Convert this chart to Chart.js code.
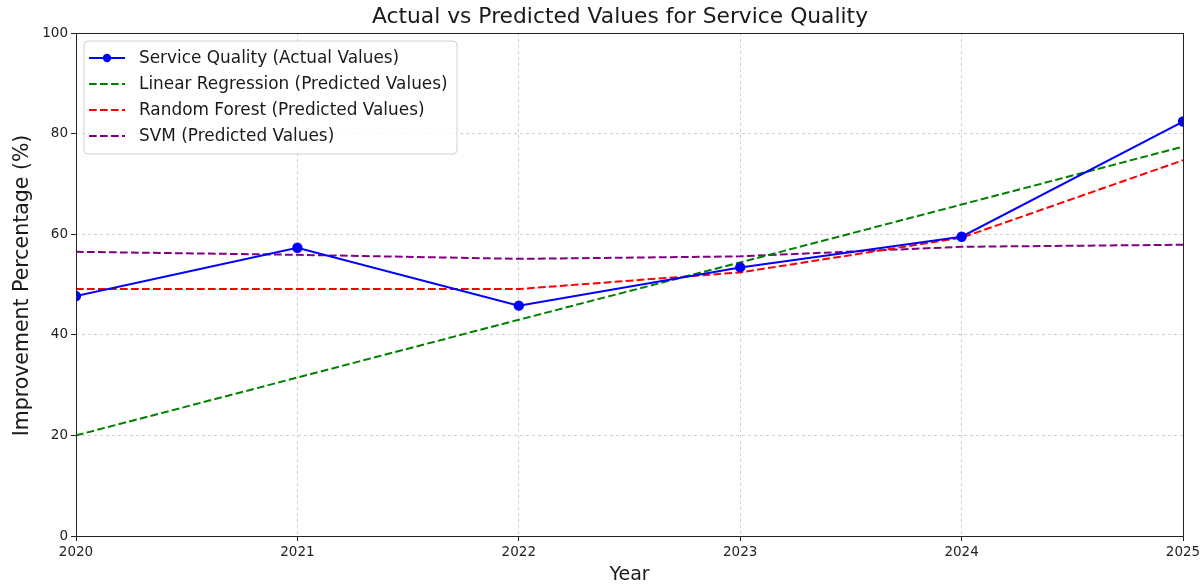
<!DOCTYPE html>
<html>
<head>
<meta charset="utf-8">
<title>Actual vs Predicted Values for Service Quality</title>
<script src="https://cdn.jsdelivr.net/npm/chart.js@4/dist/chart.umd.min.js"></script>
<style>
  html, body { margin: 0; padding: 0; background: #ffffff; }
  #wrap { width: 1204px; height: 588px; position: relative; }
</style>
</head>
<body>
<div id="wrap"><canvas id="chart" width="1204" height="588"></canvas></div>
<script>
// Years on the horizontal axis
const years = [2020, 2021, 2022, 2023, 2024, 2025];

// Observed service-quality improvement (%)
const actualValues = [47.7, 57.3, 45.8, 53.4, 59.5, 82.4];

// Model predictions (%)
const linearRegressionValues = [20.0, 31.5, 43.0, 54.4, 65.9, 77.4];
const randomForestValues = [49.1, 49.1, 49.1, 52.4, 59.3, 74.7];
const svmValues = [56.5, 55.9, 55.1, 55.6, 57.5, 57.9];

// Y-axis ticks
const yTicks = [0, 20, 40, 60, 80, 100];

const FONT = "'DejaVu Sans', 'Liberation Sans', sans-serif";

function toPoints(values) {
  return years.map((yr, i) => ({ x: yr, y: values[i] }));
}

// Box frame around the plot area, drawn above the lines
const framePlugin = {
  id: 'frame',
  afterDatasetsDraw(chart) {
    const { ctx, chartArea: a } = chart;
    ctx.save();
    ctx.strokeStyle = '#222';
    ctx.lineWidth = 1;
    ctx.strokeRect(Math.round(a.left) + 0.5, Math.round(a.top) + 0.5,
                   Math.round(a.right - a.left), Math.round(a.bottom - a.top));
    ctx.restore();
  }
};

// Titles and the boxed legend in the upper-left corner
const textPlugin = {
  id: 'texts',
  afterDraw(chart) {
    const { ctx, chartArea: a } = chart;
    ctx.save();
    ctx.fillStyle = '#1a1a1a';
    ctx.textBaseline = 'middle';
    ctx.textAlign = 'center';

    ctx.font = `21.8px ${FONT}`;
    ctx.fillText('Actual vs Predicted Values for Service Quality', 620, 17);

    ctx.font = `19px ${FONT}`;
    ctx.fillText('Year', (a.left + a.right) / 2, 575);

    ctx.save();
    ctx.font = `20.5px ${FONT}`;
    ctx.translate(23, 285.5);
    ctx.rotate(-Math.PI / 2);
    ctx.fillText('Improvement Percentage (%)', 0, 0);
    ctx.restore();

    // legend
    const lx = 84, ly = 41, lw = 373, lh = 113, r = 4;
    ctx.beginPath();
    ctx.moveTo(lx + r, ly);
    ctx.arcTo(lx + lw, ly, lx + lw, ly + lh, r);
    ctx.arcTo(lx + lw, ly + lh, lx, ly + lh, r);
    ctx.arcTo(lx, ly + lh, lx, ly, r);
    ctx.arcTo(lx, ly, lx + lw, ly, r);
    ctx.closePath();
    ctx.fillStyle = 'rgba(255,255,255,0.8)';
    ctx.fill();
    ctx.strokeStyle = '#d0d0d0';
    ctx.lineWidth = 1;
    ctx.stroke();

    ctx.font = `16.9px ${FONT}`;
    ctx.textAlign = 'left';
    const rows = [58, 84, 110, 136];
    chart.data.datasets.forEach((ds, i) => {
      const y = rows[i];
      ctx.save();
      ctx.strokeStyle = ds.borderColor;
      ctx.lineWidth = ds.borderWidth;
      ctx.setLineDash(ds.borderDash || []);
      ctx.beginPath();
      ctx.moveTo(89, y);
      ctx.lineTo(125, y);
      ctx.stroke();
      ctx.setLineDash([]);
      if (ds.pointRadius > 0) {
        ctx.fillStyle = ds.pointBackgroundColor;
        ctx.beginPath();
        ctx.arc(107, y, ds.pointRadius, 0, Math.PI * 2);
        ctx.fill();
      }
      ctx.restore();
      ctx.fillStyle = '#1a1a1a';
      ctx.fillText(ds.label, 139, y + 1);
    });
    ctx.restore();
  }
};

const dashed = [7.7, 3.3];

new Chart(document.getElementById('chart'), {
  type: 'line',
  data: {
    datasets: [
      {
        label: 'Service Quality (Actual Values)',
        data: toPoints(actualValues),
        borderColor: '#0000ff',
        backgroundColor: '#0000ff',
        pointBackgroundColor: '#0000ff',
        pointBorderColor: '#0000ff',
        borderWidth: 2,
        pointRadius: 4.2,
        pointHoverRadius: 4.2,
        borderDash: [],
        tension: 0,
        clip: 0,
        order: 1
      },
      {
        label: 'Linear Regression (Predicted Values)',
        data: toPoints(linearRegressionValues),
        borderColor: '#008000',
        backgroundColor: '#008000',
        borderWidth: 2,
        borderDash: dashed,
        pointRadius: 0,
        tension: 0,
        clip: 0,
        order: 2
      },
      {
        label: 'Random Forest (Predicted Values)',
        data: toPoints(randomForestValues),
        borderColor: '#ff0000',
        backgroundColor: '#ff0000',
        borderWidth: 2,
        borderDash: dashed,
        pointRadius: 0,
        tension: 0,
        clip: 0,
        order: 3
      },
      {
        label: 'SVM (Predicted Values)',
        data: toPoints(svmValues),
        borderColor: '#800080',
        backgroundColor: '#800080',
        borderWidth: 2,
        borderDash: dashed,
        pointRadius: 0,
        tension: 0,
        clip: 0,
        order: 4
      }
    ]
  },
  options: {
    responsive: false,
    animation: false,
    devicePixelRatio: 1,
    layout: { padding: { left: 0, right: 21, top: 33, bottom: 0 } },
    plugins: {
      legend: { display: false },
      title: { display: false },
      tooltip: { enabled: false }
    },
    scales: {
      x: {
        type: 'linear',
        min: years[0],
        max: years[years.length - 1],
        afterFit(scale) { scale.height = 52; },
        afterBuildTicks(scale) { scale.ticks = years.map(v => ({ value: v })); },
        ticks: {
          callback: v => String(v),
          font: { family: FONT, size: 13.5 },
          color: '#222',
          padding: 3,
          maxRotation: 0,
          autoSkip: false
        },
        grid: {
          color: 'rgba(176,176,176,0.6)',
          lineWidth: 1,
          tickColor: '#222',
          tickLength: 5,
          tickWidth: 1
        },
        border: { display: false, dash: [3, 3] }
      },
      y: {
        min: 0,
        max: 100,
        afterFit(scale) { scale.width = 76; },
        afterBuildTicks(scale) { scale.ticks = yTicks.map(v => ({ value: v })); },
        ticks: {
          callback: v => String(v),
          font: { family: FONT, size: 13.5 },
          color: '#222',
          padding: 3
        },
        grid: {
          color: 'rgba(176,176,176,0.6)',
          lineWidth: 1,
          tickColor: '#222',
          tickLength: 5,
          tickWidth: 1
        },
        border: { display: false, dash: [3, 3] }
      }
    }
  },
  plugins: [framePlugin, textPlugin]
});
</script>
</body>
</html>
